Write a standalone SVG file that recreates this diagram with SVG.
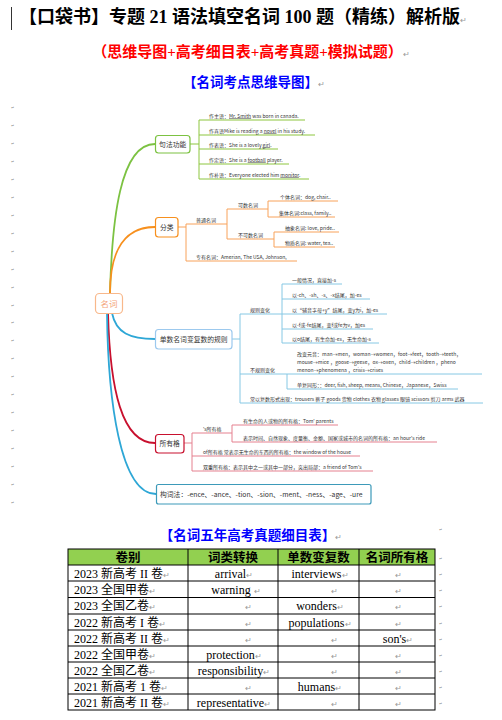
<svg xmlns="http://www.w3.org/2000/svg" width="502" height="720" viewBox="0 0 502 720">
<style>
.t{font-family:"Noto Sans CJK SC","Noto Sans",sans-serif;font-size:5px;fill:#333}
.nt{font-family:"Noto Sans CJK SC","Noto Sans",sans-serif;font-size:6.8px;fill:#333}
.h{font-family:"Liberation Serif","Noto Sans CJK SC",serif;font-weight:bold}
.tb{font-family:"Liberation Serif","Noto Sans CJK SC",serif;font-size:12px;fill:#000}
.th{font-family:"Liberation Serif","Noto Sans CJK SC",serif;font-size:12.5px;font-weight:bold;fill:#000}
.rm{fill:#999;font-size:8px;font-weight:normal}
.mk{font-family:"DejaVu Sans",sans-serif;font-size:4px;fill:#888}
.g{stroke:#8dc63f;fill:none;stroke-width:1}
.o{stroke:#f8a25a;fill:none;stroke-width:1}
.b{stroke:#86c8e4;fill:none;stroke-width:1}
.r{stroke:#e5808f;fill:none;stroke-width:1}
.u{text-decoration:underline}
</style>
<rect width="502" height="720" fill="#fff"/>
<line x1="11.5" y1="7" x2="11.5" y2="30" stroke="#000" stroke-width="0.8"/>
<g id="title">
<text x="19" y="23" class="h" font-size="18" fill="#000">【口袋书】专题 21 语法填空名词 100 题（精练）解析版<tspan class="rm">↵</tspan></text>
<text x="251" y="57" class="h" font-size="15" fill="#ff0000" text-anchor="middle">（思维导图+高考细目表+高考真题+模拟试题）<tspan class="rm">↵</tspan></text>
<text x="254" y="87" class="h" font-size="13.5" fill="#0000ff" text-anchor="middle">【名词考点思维导图】<tspan class="rm" font-size="5">↵</tspan></text>
</g>
<g id="margin-marks">
<text class="mk" x="11" y="109">↵</text><text class="mk" x="11" y="127">↵</text><text class="mk" x="11" y="145">↵</text><text class="mk" x="11" y="163">↵</text><text class="mk" x="11" y="181">↵</text><text class="mk" x="11" y="199">↵</text><text class="mk" x="11" y="217">↵</text><text class="mk" x="11" y="235">↵</text><text class="mk" x="11" y="253">↵</text><text class="mk" x="11" y="271">↵</text><text class="mk" x="11" y="289">↵</text><text class="mk" x="11" y="307">↵</text><text class="mk" x="11" y="324">↵</text><text class="mk" x="11" y="342">↵</text><text class="mk" x="11" y="360">↵</text><text class="mk" x="11" y="378">↵</text><text class="mk" x="11" y="396">↵</text><text class="mk" x="11" y="414">↵</text><text class="mk" x="11" y="432">↵</text><text class="mk" x="11" y="450">↵</text><text class="mk" x="11" y="468">↵</text><text class="mk" x="11" y="486">↵</text><text class="mk" x="11" y="504">↵</text>
</g>
<g id="connectors">
<path d="M110,293 C112,220 120,144 155,144" stroke="#7cc242" stroke-width="1.8" fill="none"/>
<path d="M110,293 C110,262 118,227 155,227" stroke="#f7901e" stroke-width="1.8" fill="none"/>
<path d="M112,313 C116,333 130,339 155,339" stroke="#2ea7d6" stroke-width="1.8" fill="none"/>
<path d="M108,313 C110,390 122,443 155,443" stroke="#c8102e" stroke-width="1.8" fill="none"/>
<path d="M107,313 C108,400 120,494 156,494" stroke="#2ea7d6" stroke-width="1.8" fill="none"/>
<path class="g" d="M190,144 H199 M199,120 V179 M199,120 H305 M199,135 H315 M199,149 H278 M199,164 H289 M199,179 H309"/>
<path class="o" d="M178,227 H186 M186,224 V261 M186,224 H227 M186,261 H297 M227,209 V239 M227,209 H268 M227,239 H274 M268,201 V217 M268,201 H338 M268,217 H335 M274,232 V247 M274,232 H339 M274,247 H335"/>
<path class="b" d="M232,339 H240 M240,314 V403 M240,314 H282 M282,284 V343 M282,284 H342 M282,299 H370 M282,314 H387 M282,329 H373 M282,343 H379 M240,374 H287 M287,374 V389 M287,374 H482 M287,389 H458 M240,403 H483"/>
<path class="r" d="M184,443 H192 M192,433 V471 M192,433 H232 M232,425 V442 M232,425 H338 M232,442 H437 M192,456 H360 M192,471 H373"/>
</g>
<g id="center">
<rect x="95.5" y="293.5" width="27" height="20" rx="4" fill="#fff" stroke="#f8b88b" stroke-width="1.2"/>
<text x="109" y="306.5" text-anchor="middle" font-family="Noto Sans CJK SC,sans-serif" font-size="8.5" fill="#f4a57a">名词</text>
</g>
<g id="node-jufa">
<rect x="155.5" y="135.5" width="34.5" height="17.5" rx="3" fill="#fff" stroke="#7cc242" stroke-width="1.2"/>
<text x="172.7" y="146.8" text-anchor="middle" class="nt">句法功能</text>
<text class="t" x="209" y="117.5">作主语：<tspan class="u">Mr. Smith</tspan> was born in canada.</text>
<text class="t" x="209" y="132.5">作宾语Mike is reading a <tspan class="u">novel</tspan> in his study.</text>
<text class="t" x="209" y="146.5">作表语：She is a lovely <tspan class="u">girl</tspan>.</text>
<text class="t" x="209" y="161.5">作定语：She is a <tspan class="u">football</tspan> player.</text>
<text class="t" x="209" y="176.5">作补语：Everyone elected him <tspan class="u">monitor</tspan>.</text>
</g>
<g id="node-fenlei">
<rect x="155.5" y="217.5" width="22.5" height="19.5" rx="3" fill="#fff" stroke="#f7901e" stroke-width="1.2"/>
<text x="166.7" y="229.5" text-anchor="middle" class="nt">分类</text>
<text class="t" x="196" y="221.5">普通名词</text>
<text class="t" x="238" y="206.5">可数名词</text>
<text class="t" x="238" y="236.5">不可数名词</text>
<text class="t" x="280" y="198.5">个体名词：dog, chair..</text>
<text class="t" x="279" y="214.5">集体名词:class, family..</text>
<text class="t" x="285" y="229.5">抽象名词: love, pride..</text>
<text class="t" x="285" y="244.5">物质名词: water, tea..</text>
<text class="t" x="196" y="258.5">专有名词：Amerian, The USA, Johnson,</text>
</g>
<g id="node-fushu">
<rect x="155.5" y="329.5" width="76.5" height="19.5" rx="3" fill="#fff" stroke="#9cc9ee" stroke-width="1.2"/>
<text x="193.7" y="341.5" text-anchor="middle" class="nt">单数名词变复数的规则</text>
<text class="t" x="250" y="311.5">规则变化</text>
<text class="t" x="292" y="281.5">一般情况，直接加-s</text>
<text class="t" x="292" y="296.5">以-ch、-sh、-s、-x结尾，加-es</text>
<text class="t" x="292" y="311.5">以“辅音字母+y”结尾，变y为i，加-es</text>
<text class="t" x="292" y="326.5">以-f或-fe结尾，变f或fe为v，加es</text>
<text class="t" x="292" y="340.5">以o结尾，有生命加-es，无生命加-s</text>
<text class="t" x="250" y="371.5">不规则变化</text>
<text class="t" x="297" y="355.5">改变元音：man→men，woman→women，foot→feet，tooth→teeth，</text>
<text class="t" x="297" y="363.5">mouse→mice ，goose→geese，ox→oxen，child→children ，pheno</text>
<text class="t" x="297" y="371.5">menon→phenomena ，crisis→crises</text>
<text class="t" x="297" y="386.5">单复同形：：deer, fish, sheep, means, Chinese，Japanese，Swiss</text>
<text class="t" x="250" y="400.5">常以复数形式出现：trousers 裤子 goods 货物 clothes 衣物 glasses 眼镜 scissors 剪刀 arms 武器</text>
</g>
<g id="node-suoyouge">
<rect x="155.5" y="434.5" width="28.5" height="18.5" rx="3" fill="#fff" stroke="#c8102e" stroke-width="1.2"/>
<text x="169.7" y="446.2" text-anchor="middle" class="nt">所有格</text>
<text class="t" x="203" y="430.5">'s所有格</text>
<text class="t" x="243" y="422.5">有生命的人或物的所有格：Tom' parents</text>
<text class="t" x="243" y="439.5">表示时间、自然现象、度量衡、金额、国家或城市的名词的所有格：an hour's ride</text>
<text class="t" x="203" y="453.5">of所有格 常表示无生命的东西的所有格：the window of the house</text>
<text class="t" x="203" y="468.5">双重所有格：表示其中之一或其中一部分，突出局部：a friend of Tom's</text>
</g>
<g id="node-gouci">
<rect x="156.5" y="484.5" width="214.5" height="19.5" rx="2" fill="#fff" stroke="#3d9ab9" stroke-width="1.2"/>
<text class="nt" x="160" y="496.8" font-size="6.6">构词法：-ence、-ance、-tion、-sion、-ment、-ness、-age、-ure</text>
</g>
<g id="table-title">
<text x="251" y="540" class="h" font-size="13.5" fill="#0000ff" text-anchor="middle">【名词五年高考真题细目表】<tspan class="rm" font-size="6">↵</tspan></text>
</g>
<g id="table">
<rect x="68" y="549" width="367" height="16" fill="#92d050"/>
<g stroke="#000" stroke-width="1" fill="none">
<rect x="68" y="549" width="367" height="161"/>
<path d="M68,565 H435 M68,581 H435 M68,597.5 H435 M68,614 H435 M68,630 H435 M68,646 H435 M68,662 H435 M68,678 H435 M68,694 H435 M188,549 V710 M278,549 V710 M359,549 V710"/>
</g>
<g class="th" text-anchor="middle">
<text x="128" y="561.5">卷别</text>
<text x="233" y="561.5">词类转换</text>
<text x="318.5" y="561.5">单数变复数</text>
<text x="397" y="561.5">名词所有格</text>
</g>
<g class="tb">
<text x="74" y="577.5">2023 新高考 II 卷<tspan class="rm">↵</tspan></text>
<text x="74" y="594">2023 全国甲卷<tspan class="rm">↵</tspan></text>
<text x="74" y="610">2023 全国乙卷<tspan class="rm">↵</tspan></text>
<text x="74" y="626.5">2022 新高考 I 卷<tspan class="rm">↵</tspan></text>
<text x="74" y="642.5">2022 新高考 II 卷<tspan class="rm">↵</tspan></text>
<text x="74" y="658.5">2022 全国甲卷<tspan class="rm">↵</tspan></text>
<text x="74" y="674.5">2022 全国乙卷<tspan class="rm">↵</tspan></text>
<text x="74" y="690.5">2021 新高考 1 卷<tspan class="rm">↵</tspan></text>
<text x="74" y="706.5">2021 新高考 II 卷<tspan class="rm">↵</tspan></text>
</g>
<g class="tb" text-anchor="middle">
<text x="234" y="577.5">arrival<tspan class="rm">↵</tspan></text>
<text x="320" y="577.5">interviews<tspan class="rm">↵</tspan></text>
<text x="398" y="577.5" class="rm">↵</text>
<text x="236" y="594">warning <tspan class="rm">↵</tspan></text>
<text x="334" y="594" class="rm">↵</text>
<text x="398" y="594" class="rm">↵</text>
<text x="248" y="610" class="rm">↵</text>
<text x="320" y="610">wonders<tspan class="rm">↵</tspan></text>
<text x="398" y="610" class="rm">↵</text>
<text x="248" y="626.5" class="rm">↵</text>
<text x="320" y="626.5">populations<tspan class="rm">↵</tspan></text>
<text x="398" y="626.5" class="rm">↵</text>
<text x="248" y="642.5" class="rm">↵</text>
<text x="334" y="642.5" class="rm">↵</text>
<text x="398" y="642.5">son's<tspan class="rm">↵</tspan></text>
<text x="234" y="658.5">protection<tspan class="rm">↵</tspan></text>
<text x="334" y="658.5" class="rm">↵</text>
<text x="398" y="658.5" class="rm">↵</text>
<text x="234" y="674.5">responsibility<tspan class="rm">↵</tspan></text>
<text x="334" y="674.5" class="rm">↵</text>
<text x="398" y="674.5" class="rm">↵</text>
<text x="248" y="690.5" class="rm">↵</text>
<text x="320" y="690.5">humans<tspan class="rm">↵</tspan></text>
<text x="398" y="690.5" class="rm">↵</text>
<text x="234" y="706.5">representative<tspan class="rm">↵</tspan></text>
<text x="334" y="706.5" class="rm">↵</text>
<text x="398" y="706.5" class="rm">↵</text>
</g>
<g class="mk">
<text x="439" y="531">↵</text><text x="439" y="560">↵</text><text x="439" y="576">↵</text><text x="439" y="592">↵</text><text x="439" y="608">↵</text><text x="439" y="625">↵</text><text x="439" y="641">↵</text><text x="439" y="657">↵</text><text x="439" y="673">↵</text><text x="439" y="689">↵</text><text x="439" y="705">↵</text>
</g>
</g>
</svg>
